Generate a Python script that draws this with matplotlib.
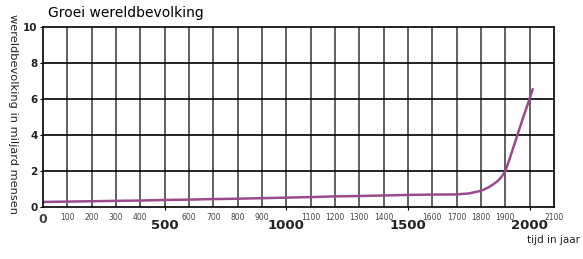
import numpy as np
import matplotlib
matplotlib.use("Agg")
import matplotlib.pyplot as plt

# population in billions
years = [0, 100, 200, 300, 400, 500, 600, 700, 800, 900, 1000, 1100, 1200, 1300,
         1400, 1500, 1600, 1700, 1750, 1800, 1830, 1850, 1870, 1885, 1900, 1915,
         1937, 1972, 2000, 2013]
population = [0.28, 0.3, 0.32, 0.34, 0.36, 0.39, 0.41, 0.44, 0.46, 0.49, 0.52, 0.55,
              0.59, 0.61, 0.64, 0.67, 0.69, 0.7, 0.75, 0.9, 1.08, 1.25, 1.45, 1.68,
              1.98, 2.55, 3.45, 4.9, 6.0, 6.55]

small_ticks = [0, 100, 200, 300, 400, 600, 700, 800, 900, 1100, 1200, 1300, 1400,
               1600, 1700, 1800, 1900, 2100]
big_ticks = [500, 1000, 1500, 2000]
y_ticks = [0, 2, 4, 6, 8, 10]

fig = plt.figure(figsize=(5.83, 2.59), dpi=100)
ax = fig.add_axes([0.0738, 0.2008, 0.8762, 0.695])

ax.plot(years, population, color="#9a4a8c", lw=1.8, solid_capstyle="round",
        solid_joinstyle="round")

ax.set_xlim(0, 2100)
ax.set_ylim(0, 10)

# grid
for x in range(100, 2100, 100):
    ax.axvline(x, color="#555555", lw=1.3, zorder=0)
for y in [2, 4, 6, 8]:
    ax.axhline(y, color="black", lw=1.2, zorder=0)
for s in ax.spines.values():
    s.set_color("black")
    s.set_linewidth(1.2)

ax.set_xticks(big_ticks)
ax.set_xticklabels([str(t) for t in big_ticks], fontsize=9.5, fontweight="bold", color="#222222")
ax.set_xticks(small_ticks, minor=True)
ax.set_xticklabels([str(t) for t in small_ticks], minor=True, fontsize=5.5, color="#444444")
ax.tick_params(axis="x", which="major", length=2.5, pad=6)
ax.tick_params(axis="x", which="minor", length=0, pad=4.5)
zero = ax.get_xticklabels(minor=True)[0]
zero.set_fontsize(9)
zero.set_fontweight("bold")

ax.set_yticks(y_ticks)
ax.set_yticklabels([str(t) for t in y_ticks], fontsize=7.5, fontweight="bold", color="#222222")
ax.tick_params(axis="y", length=2, pad=2)

fig.text(0.082, 0.95, "Groei wereldbevolking", fontsize=10, va="center", ha="left")
fig.text(0.022, 0.56, "wereldbevolking in miljard mensen", fontsize=8.2, rotation=-90,
         va="center", ha="center", color="#222222")
fig.text(0.995, 0.073, "tijd in jaar", fontsize=7.5, ha="right", va="center", color="#222222")

fig.savefig("out.png", dpi=100)
